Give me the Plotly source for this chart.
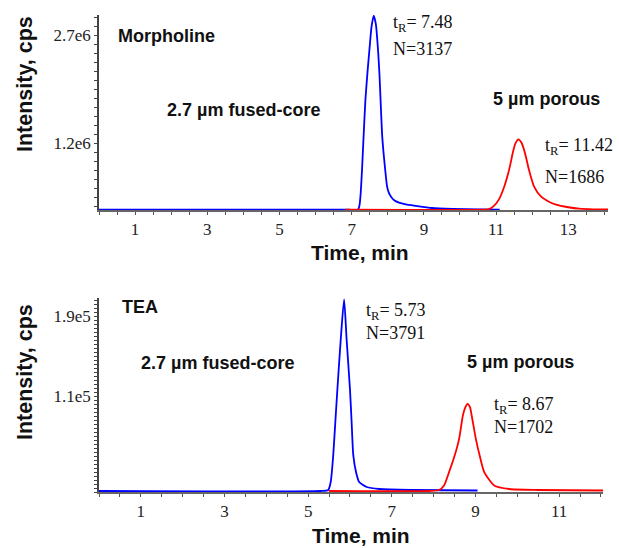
import plotly.graph_objects as go

# ---------------- data ----------------
# Morpholine panel
t_blue_top = [0.0, 6.9, 7.18, 7.22, 7.25, 7.29, 7.33, 7.38, 7.44, 7.49, 7.55, 7.61, 7.67, 7.73,
              7.77, 7.80, 7.84, 7.88, 7.92, 7.98, 8.03, 8.10, 8.17, 8.31, 8.50, 8.77, 9.22,
              9.8, 10.5, 11.1]
i_blue_top = [2.76e5, 2.76e5, 2.80e5, 3.5e5, 5.1e5, 8.7e5, 1.30e6, 1.80e6, 2.20e6, 2.49e6,
              2.82e6, 2.97e6, 2.85e6, 2.49e6, 2.15e6, 1.80e6, 1.34e6, 1.08e6, 8.7e5, 6.0e5,
              5.1e5, 4.5e5, 4.1e5, 3.74e5, 3.5e5, 3.3e5, 3.0e5, 2.88e5, 2.82e5, 2.78e5]
t_red_top = [6.83, 10.6, 10.8, 10.94, 11.08, 11.20, 11.34, 11.41, 11.45, 11.53, 11.62, 11.70,
             11.78, 11.85, 11.91, 12.05, 12.24, 12.45, 12.66, 13.0, 13.3, 13.7, 14.1]
i_red_top = [2.76e5, 2.77e5, 2.85e5, 3.3e5, 4.2e5, 5.6e5, 7.9e5, 9.4e5, 1.04e6, 1.19e6,
             1.254e6, 1.21e6, 1.10e6, 9.6e5, 8.3e5, 6.0e5, 4.6e5, 3.9e5, 3.46e5, 3.1e5,
             2.9e5, 2.82e5, 2.8e5]

# TEA panel
t_blue_bot = [0.0, 5.3, 5.48, 5.54, 5.60, 5.65, 5.70, 5.78, 5.86, 5.92, 6.00, 6.04, 6.08,
              6.15, 6.22, 6.40, 6.70, 7.5, 9.05]
i_blue_bot = [1.5e4, 1.5e4, 1.6e4, 2.4e4, 5.07e4, 8.4e4, 1.173e5, 1.67e5, 2.07e5, 1.67e5,
              1.173e5, 8.4e4, 5.07e4, 3.3e4, 2.4e4, 1.9e4, 1.7e4, 1.6e4, 1.55e4]
t_red_bot = [5.5, 7.9, 8.13, 8.25, 8.37, 8.50, 8.61, 8.70, 8.76, 8.81, 8.87, 8.91, 9.01,
             9.11, 9.21, 9.45, 9.81, 10.5, 12.05]
i_red_bot = [1.5e4, 1.5e4, 1.6e4, 2.06e4, 3.4e4, 5.0e4, 6.73e4, 9.07e4, 9.9e4, 1.023e5,
             9.9e4, 9.07e4, 6.73e4, 4.9e4, 3.4e4, 2.06e4, 1.7e4, 1.6e4, 1.55e4]

x_ticks_top = [1, 3, 5, 7, 9, 11, 13]
x_ticks_bot = [1, 3, 5, 7, 9, 11]
y_ticks_top = [1.2e6, 2.7e6]
y_text_top = ["1.2e6", "2.7e6"]
y_ticks_bot = [1.1e5, 1.9e5]
y_text_bot = ["1.1e5", "1.9e5"]

# ---------------- figure ----------------
W, H = 619, 548
BLUE = "#0000ff"
RED = "#ff0000"
SERIF = "Liberation Serif, Times New Roman, serif"
SANS = "Liberation Sans, Arial, sans-serif"

fig = go.Figure()
for tx, iy, col, xa, ya in [(t_blue_top, i_blue_top, BLUE, "x", "y"),
                            (t_red_top, i_red_top, RED, "x", "y"),
                            (t_blue_bot, i_blue_bot, BLUE, "x2", "y2"),
                            (t_red_bot, i_red_bot, RED, "x2", "y2")]:
    fig.add_trace(go.Scatter(x=tx, y=iy, mode="lines",
                             line=dict(color=col, width=1.8, shape="spline", smoothing=0.6),
                             xaxis=xa, yaxis=ya, showlegend=False))


def px(x):
    return x / W


def py(y):
    return 1 - y / H


tickfont = dict(family=SERIF, size=17, color="#222")

common_x = dict(showgrid=False, zeroline=False, showline=True, linecolor="#666", linewidth=1.5,
                ticks="outside", ticklen=3, tickcolor="#555", tickfont=tickfont,
                minor=dict(dtick=0.5, tick0=0, ticks="outside", ticklen=3, tickcolor="#555"))
common_y = dict(showgrid=False, zeroline=False, showline=True, linecolor="#444", linewidth=1.5,
                ticks="outside", ticklen=3, tickcolor="#444", tickfont=tickfont)

fig.update_layout(
    width=W, height=H,
    margin=dict(l=0, r=0, t=0, b=0),
    paper_bgcolor="white", plot_bgcolor="white",
    xaxis=dict(common_x, domain=[px(99), px(608)], range=[0, 14.1],
               tickmode="array", tickvals=x_ticks_top, anchor="y"),
    yaxis=dict(common_y, domain=[py(210), py(15)], range=[2.72e5, 2.98e6],
               tickmode="array", tickvals=y_ticks_top, ticktext=y_text_top, anchor="x",
               minor=dict(tickmode="linear", tick0=1.2e6, dtick=1.25e5, ticks="outside",
                          ticklen=3, tickcolor="#444")),
    xaxis2=dict(common_x, domain=[px(99), px(603)], range=[0, 12.05],
                tickmode="array", tickvals=x_ticks_bot, anchor="y2"),
    yaxis2=dict(common_y, domain=[py(492), py(298)], range=[1.4e4, 2.085e5],
                tickmode="array", tickvals=y_ticks_bot, ticktext=y_text_bot, anchor="x2",
                minor=dict(tickmode="linear", tick0=1.1e5, dtick=4000, ticks="outside",
                           ticklen=3, tickcolor="#444")),
)

annots = []


def add(text, x, y, font, size, xanchor="left", bold=False, angle=0):
    annots.append(dict(text=("<b>%s</b>" % text) if bold else text, x=px(x), y=py(y),
                       xref="paper", yref="paper", xanchor=xanchor, yanchor="middle",
                       showarrow=False, textangle=angle,
                       font=dict(family=font, size=size, color="#111")))


# axis titles
add("Intensity, cps", 25, 84, SANS, 21.5, xanchor="center", bold=True, angle=-90)
add("Intensity, cps", 25, 372, SANS, 21.5, xanchor="center", bold=True, angle=-90)
add("Time, min", 360, 252, SANS, 21, xanchor="center", bold=True)
add("Time, min", 361, 535, SANS, 21, xanchor="center", bold=True)

# top panel labels
add("Morpholine", 116, 36, SANS, 18, bold=True)
add("2.7 µm fused-core", 165, 110, SANS, 18, bold=True)
add("5 µm porous", 491, 99, SANS, 18, bold=True)
add("t<sub>R</sub>= 7.48", 391, 24, SERIF, 18)
add("N=3137", 391, 49, SERIF, 18)
add("t<sub>R</sub>= 11.42", 543, 147, SERIF, 18)
add("N=1686", 543, 177, SERIF, 18)

# bottom panel labels
add("TEA", 120, 307, SANS, 18, bold=True)
add("2.7 µm fused-core", 139, 363, SANS, 18, bold=True)
add("5 µm porous", 465, 362, SANS, 18, bold=True)
add("t<sub>R</sub>= 5.73", 364, 311, SERIF, 18)
add("N=3791", 364, 333, SERIF, 18)
add("t<sub>R</sub>= 8.67", 492, 405, SERIF, 18)
add("N=1702", 492, 427, SERIF, 18)

fig.update_layout(annotations=annots)

fig.write_html("out.html")
